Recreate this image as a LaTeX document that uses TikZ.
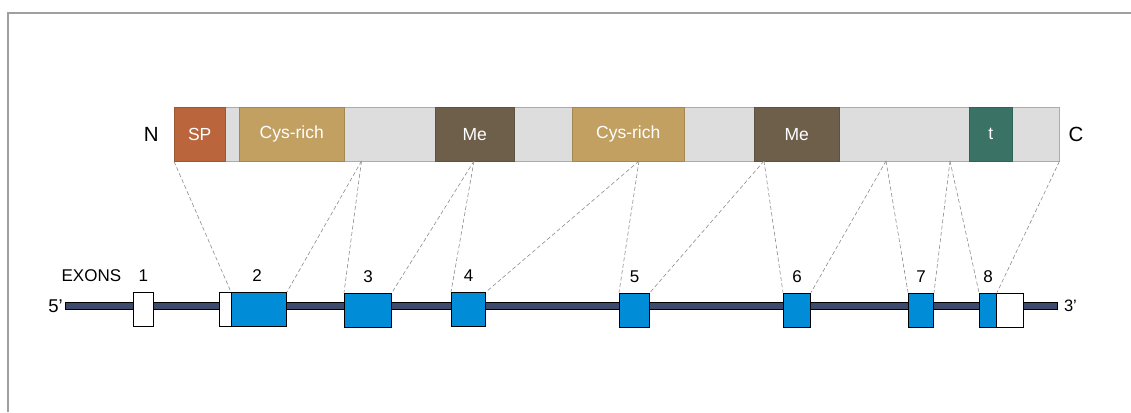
\documentclass[tikz,border=0pt]{standalone}
\usepackage{fontspec}
\setmainfont{Liberation Sans}
\usepackage{xcolor}
\usepackage{tikz}
\usetikzlibrary{positioning}

\definecolor{spcol}{RGB}{186,101,59}
\definecolor{cyscol}{RGB}{193,160,98}
\definecolor{mecol}{RGB}{110,95,75}
\definecolor{tcol}{RGB}{58,115,102}
\definecolor{linkcol}{RGB}{221,221,221}
\definecolor{exoncol}{RGB}{0,140,214}
\definecolor{genecol}{RGB}{62,74,108}

\begin{document}
\begin{tikzpicture}[x=1pt,y=-1pt,
      dom style/.style={rectangle,draw=#1!85!black,fill=#1,text=white,
        minimum height=54pt,inner sep=0pt,anchor=north west,
        font=\fontsize{17.5}{20}\selectfont},
      exon style/.style={rectangle,draw=black,fill=exoncol,line width=1pt,
        minimum height=34pt,inner sep=0pt,anchor=north west},
      utr style/.style={exon style,fill=white},
      lbl style/.style={inner sep=0pt,font=\fontsize{17}{20}\selectfont},
      map style/.style={gray!90,line width=0.6pt,dash pattern=on 4pt off 2.5pt}
      ]
      \useasboundingbox (0,0) rectangle (1131,412);
      \draw[gray!75,line width=1.2pt] (8,412) -- (8,13) -- (1131,13);

      % protein
      \node[rectangle,draw=gray!65,fill=linkcol,minimum width=885pt,
        minimum height=54pt,inner sep=0pt,anchor=north west] (prot) at (174,107) {};
      \node[dom style=spcol,minimum width=51pt] (sp) at (174,107) {SP};
      \node[dom style=cyscol,minimum width=105pt] (cys1) at (239,107) {Cys-rich};
      \node[dom style=mecol,minimum width=79pt] (me1) at (435,107) {Me};
      \node[dom style=cyscol,minimum width=112pt] (cys2) at (572,107) {Cys-rich};
      \node[dom style=mecol,minimum width=85pt] (me2) at (754,107) {Me};
      \node[dom style=tcol,minimum width=43pt] (tm) at (969,107) {t};
      \node[lbl style,font=\fontsize{20.5}{24}\selectfont,left=15pt of prot] (nterm) {N};
      \node[lbl style,font=\fontsize{20.5}{24}\selectfont,right=9pt of prot] (cterm) {C};

      % gene
      \node[rectangle,draw=black,fill=genecol,line width=0.8pt,minimum width=992pt,
        minimum height=6.5pt,inner sep=0pt,anchor=west] (gene) at (65,306) {};
      \node[lbl style,font=\fontsize{18.5}{21}\selectfont,left=2pt of gene] (five) {5'};
      \node[lbl style,font=\fontsize{16.5}{19}\selectfont,right=6pt of gene] (three) {3'};

      \node[utr style,minimum width=19.5pt] (ex1) at (133,292) {};
      \node[utr style,minimum width=12pt] (utr2) at (219,292) {};
      \node[exon style,minimum width=55pt] (ex2) at (231,292) {};
      \node[exon style,minimum width=47pt] (ex3) at (344,292.5) {};
      \node[exon style,minimum width=34pt] (ex4) at (451,292) {};
      \node[exon style,minimum width=30pt] (ex5) at (619,292.5) {};
      \node[exon style,minimum width=27pt] (ex6) at (783,292.5) {};
      \node[exon style,minimum width=25pt] (ex7) at (908,292.5) {};
      \node[exon style,minimum width=17pt] (ex8) at (979,292.5) {};
      \node[utr style,minimum width=27pt] (utr8) at (996,292.5) {};

      \node[lbl style,above=10pt of ex1] (n1) {1};
      \node[lbl style,above=10pt of ex2,xshift=-2pt] (n2) {2};
      \node[lbl style,above=10pt of ex3] (n3) {3};
      \node[lbl style,above=10pt of ex4] (n4) {4};
      \node[lbl style,above=10pt of ex5] (n5) {5};
      \node[lbl style,above=10pt of ex6] (n6) {6};
      \node[lbl style,above=10pt of ex7] (n7) {7};
      \node[lbl style,above=10pt of ex8] (n8) {8};
      \node[lbl style,left=17pt of n1] (exons) {EXONS};

      % exon to domain mapping
      \coordinate (p1) at (361.5,161);
      \coordinate (p2) at (474,161);
      \coordinate (p3) at (639,161);
      \coordinate (p4) at (764,161);
      \coordinate (p5) at (886,161);
      \coordinate (p6) at (950,161);

      \draw[map style] (prot.south west) -- (ex2.north west);
      \draw[map style] (p1) -- (ex2.north east);
      \draw[map style] (p1) -- (ex3.north west);
      \draw[map style] (p2) -- (ex3.north east);
      \draw[map style] (p2) -- (ex4.north west);
      \draw[map style] (p3) -- (ex4.north east);
      \draw[map style] (p3) -- (ex5.north west);
      \draw[map style] (p4) -- (ex5.north east);
      \draw[map style] (p4) -- (ex6.north west);
      \draw[map style] (p5) -- (ex6.north east);
      \draw[map style] (p5) -- (ex7.north west);
      \draw[map style] (p6) -- (ex7.north east);
      \draw[map style] (p6) -- (ex8.north west);
      \draw[map style] (prot.south east) -- (ex8.north east);

    \end{tikzpicture}
\end{document}
